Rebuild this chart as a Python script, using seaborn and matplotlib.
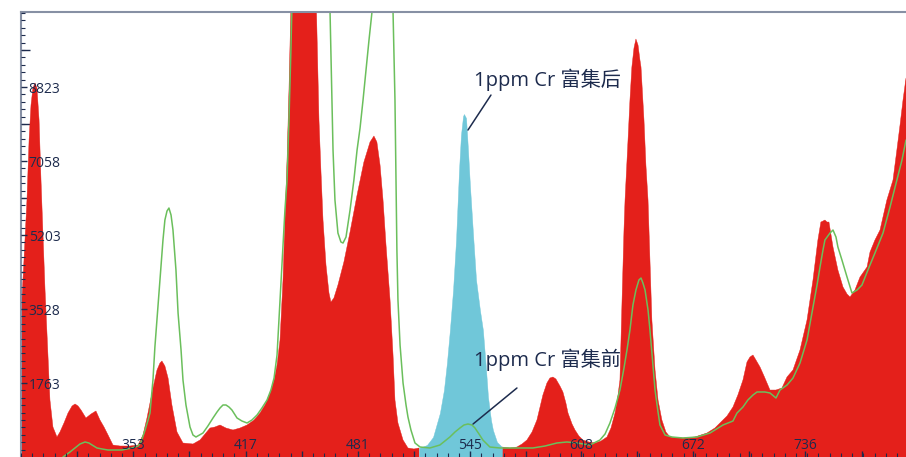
import numpy as np
import matplotlib
matplotlib.use("Agg")
import matplotlib.pyplot as plt
from matplotlib.ticker import FixedLocator, MultipleLocator
import seaborn as sns

# 富集后谱图 (channel, counts)
after_x = [289.0, 290.7, 292.4, 293.6, 294.7, 295.8, 297.0, 298.1, 299.3, 300.4,
           301.5, 302.7, 303.8, 305.5, 307.2, 309.5, 311.2, 313.5, 315.8, 318.1,
           319.8, 321.5, 323.2, 326.0, 328.9, 331.7, 334.0, 336.3, 338.6, 341.4,
           345.4, 351.1, 355.7, 358.5, 360.8, 362.5, 364.2, 366.5, 368.2, 369.3,
           371.0, 372.8, 375.0, 377.9, 381.3, 387.0, 391.0, 396.7, 399.5, 402.4,
           405.8, 409.8, 413.8, 417.8, 421.8, 425.2, 428.0, 430.9, 433.2, 434.9,
           436.6, 438.3, 439.4, 440.6, 441.7, 443.4, 448.0, 452.5, 457.1, 458.8,
           459.9, 461.1, 462.8, 464.5, 465.6, 467.3, 469.6, 473.0, 476.5, 480.5,
           484.4, 487.9, 490.1, 491.8, 493.6, 495.3, 497.0, 499.3, 501.0, 502.1,
           503.8, 506.7, 509.5, 512.9, 515.8,
           520.3, 523.8, 527.7, 530.0, 531.7, 533.4, 535.2, 536.9, 538.6, 539.7,
           540.9, 541.4, 542.6, 543.7, 544.8, 546.6, 548.3, 550.5, 552.2, 554.0,
           555.1, 556.8, 557.9, 560.2, 563.1,
           567.6, 571.6, 574.5, 577.3, 580.2, 583.0, 586.4, 588.7, 590.4, 592.1,
           593.8, 596.1, 597.8, 599.5, 600.7, 603.0, 604.7, 606.9, 609.2, 612.6,
           616.1, 619.5, 622.9, 625.2, 627.5, 629.2, 630.3, 631.5, 632.6, 633.2,
           634.9, 636.0, 637.1, 638.3, 639.4, 640.6, 641.7, 642.3, 644.0, 645.1,
           646.3, 647.4, 648.5, 650.3, 652.0, 654.2, 656.5, 658.8, 666.2, 673.0,
           679.9, 684.4, 687.3, 691.3, 694.7, 697.5, 700.4, 702.7, 704.4, 706.1,
           707.8, 710.1, 712.4, 714.1, 715.8, 719.2, 722.6, 725.5, 728.9, 732.9,
           736.9, 740.3, 743.1, 744.8, 746.0, 747.1, 748.3, 749.4, 751.7, 754.5,
           757.4, 759.7, 761.4, 764.2, 767.1, 771.1, 772.8, 775.6, 778.5, 782.4,
           785.9, 788.1, 789.9, 791.6, 793.3]
after_y = [3338, 4696, 6127, 7557, 8392, 8797, 8916, 8797, 8034, 6604,
           5340, 3981, 2956, 1359, 715, 477, 596, 811, 1049, 1216,
           1264, 1216, 1120, 930, 1025, 1097, 882, 715, 524, 286,
           262, 262, 286, 524, 930, 1287, 1645, 2074, 2241, 2289,
           2169, 1883, 1240, 596, 334, 310, 405, 691, 715, 763,
           691, 644, 691, 763, 882, 1049, 1240, 1526, 1836, 2193,
           2789, 4220, 5650, 7080, 8749, 11848, 12802, 12802, 11133, 8034,
           6842, 5650, 4577, 3910, 3695, 3791, 4100, 4649, 5364, 6246,
           7033, 7510, 7653, 7510, 6961, 6127, 5054, 3743, 2432, 1359,
           811, 405, 215, 191, 215,
           286, 477, 1049, 1597, 2241, 3028, 3981, 5173, 6842, 7676,
           8129, 8177, 8082, 7319, 6484, 5292, 4220, 3504, 3028, 2074,
           1430, 882, 644, 358, 238,
           215, 238, 310, 405, 596, 882, 1478, 1764, 1883, 1907,
           1860, 1693, 1550, 1287, 1049, 787, 644, 501, 405, 358,
           334, 381, 477, 691, 1049, 1478, 1836, 3743, 5412, 6127,
           7557, 8511, 9298, 9751, 9965, 9822, 9464, 9298, 8034, 6961,
           6127, 4696, 3266, 2074, 1359, 882, 596, 477, 453, 477,
           572, 691, 811, 977, 1192, 1478, 1836, 2265, 2384, 2432,
           2312, 2146, 1931, 1764, 1597, 1597, 1645, 1907, 2074, 2551,
           3266, 4220, 5173, 5602, 5626, 5650, 5602, 5602, 5006, 4458,
           4053, 3886, 3814, 3981, 4291, 4530, 4887, 5173, 5412, 6127,
           6604, 7319, 7915, 8511, 9035]

# 富集前谱图
before_x = [312.9, 316.9, 319.8, 322.6, 325.5, 327.7, 329.5, 332.3, 335.2, 338.6,
            342.6, 346.5, 352.2, 355.7, 357.4, 359.7, 361.4, 362.5, 364.2, 365.3,
            367.1, 368.2, 369.9, 371.0, 372.2, 373.3, 374.5, 375.6, 377.3, 378.5,
            380.2, 381.3, 383.0, 385.3, 387.0, 388.7, 392.7, 395.5, 398.4, 400.7,
            402.4, 404.1, 405.8, 407.5, 409.2, 412.1, 414.9, 417.8, 420.6, 423.5,
            426.3, 429.2, 431.4, 433.2, 434.9, 436.6, 438.3, 439.4, 440.6, 441.7,
            442.8, 444.0, 448.0, 459.4, 464.5, 465.1, 466.2, 466.8, 467.9, 469.6,
            471.3, 472.5, 474.2, 476.5, 478.7, 480.5, 482.2, 483.9, 485.6, 487.3,
            489.0, 490.1, 496.4, 499.8, 501.0, 502.1, 502.7, 503.2, 503.8, 505.0,
            506.7, 508.4, 509.5, 511.2, 513.5, 516.4, 522.0, 527.7, 533.4, 536.3,
            539.1, 541.4, 543.7, 546.0, 547.7, 550.0, 552.2, 556.2, 561.9, 570.5,
            580.7, 587.6, 594.4, 600.1, 605.8, 613.2, 618.9, 621.8, 624.6, 627.5,
            630.3, 632.6, 634.3, 636.0, 637.7, 639.4, 641.1, 642.3, 643.4, 644.6,
            646.3, 647.4, 649.1, 650.3, 652.0, 653.1, 656.0, 659.9, 666.2, 674.2,
            681.6, 689.0, 694.7, 697.0, 700.4, 703.2, 706.1, 708.4, 712.9, 715.8,
            719.2, 721.5, 725.5, 728.9, 732.9, 736.9, 740.3, 742.6, 744.3, 746.0,
            747.1, 750.0, 751.7, 753.4, 754.5, 756.8, 759.7, 762.5, 765.4, 768.2,
            771.6, 775.6, 780.2, 784.2, 788.1, 791.0, 793.3]
before_y = [0, 119, 215, 310, 358, 334, 286, 215, 191, 167,
            167, 167, 215, 262, 358, 644, 882, 1049, 1836, 2622,
            3624, 4220, 5173, 5650, 5865, 5936, 5769, 5412, 4458, 3433,
            2551, 1836, 1240, 715, 524, 477, 572, 739, 930, 1073,
            1168, 1240, 1240, 1192, 1120, 930, 858, 811, 882, 1001,
            1168, 1359, 1597, 1883, 2432, 3743, 5006, 5888, 6604, 8034,
            9703, 11848, 15663, 15663, 11848, 10609, 8511, 7319, 6127, 5340,
            5126, 5102, 5245, 5888, 6604, 7319, 7843, 8511, 9226, 9941,
            10609, 11848, 15663, 11848, 10609, 8511, 6604, 4935, 3743, 2670,
            1764, 1240, 954, 644, 334, 238, 215, 286, 477, 596,
            691, 763, 787, 763, 691, 548, 405, 238, 215, 215,
            215, 262, 334, 358, 334, 286, 405, 548, 811, 1168,
            1597, 2122, 2551, 3028, 3624, 3981, 4220, 4267, 4148, 3981,
            3504, 3028, 2193, 1597, 1073, 763, 524, 477, 453, 477,
            572, 763, 858, 1049, 1192, 1359, 1478, 1550, 1550, 1526,
            1407, 1597, 1716, 1883, 2241, 2789, 3576, 4100, 4530, 4935,
            5173, 5340, 5412, 5245, 5006, 4696, 4291, 3910, 3981, 4100,
            4458, 4863, 5340, 5960, 6604, 7080, 7557]

# Cr 积分窗口
cr_window = (515.8, 563.1)

x_label_pos = [353, 417, 481, 545, 608, 672, 736]
x_labels = ['353', '417', '481', '545', '608', '672', '736']
x_mid_pos = [321, 385, 449, 513, 577, 640, 704, 768]
y_label_pos = [1764, 3528, 5292, 7056, 8820]
y_labels = ['1763', '3528', '5203', '7058', '8823']
y_mid_pos = [882, 2646, 4410, 6174, 7938, 9702]

after_text = '1ppm Cr 富集后'
after_text_pos = (547.1, 8988)
after_line = [(556.8, 8630), (543.7, 7796)]
before_text = '1ppm Cr 富集前'
before_text_pos = (547.1, 2312)
before_line = [(571.6, 1645), (546.6, 787)]

RED = '#e4201b'
CYAN = '#70c7d9'
GREEN = '#6bbf5c'
NAVY = '#1d2b4d'
SPINE = '#8790a4'

sns.set_style('white')
plt.rcParams['font.family'] = ['Open Sans', 'Noto Sans CJK SC', 'DejaVu Sans']

fig = plt.figure(figsize=(9.06, 4.57), dpi=100)
ax = fig.add_axes([21 / 906, 0, 885 / 906, 445 / 457])
ax.set_axisbelow(False)

xa = np.array(after_x)
ya = np.array(after_y)
lo, hi = cr_window
ax.fill_between(xa, 0, ya, where=(xa <= lo) | (xa >= hi), color=RED, lw=0.3, zorder=1)
ax.fill_between(xa, 0, ya, where=(xa >= lo) & (xa <= hi), color=CYAN, lw=0.3, zorder=1)
sns.lineplot(x=before_x, y=before_y, ax=ax, color=GREEN, lw=1.1, sort=False,
             estimator=None, zorder=2)

ax.set_xlim(289, 793.3)
ax.set_ylim(0, 10610)

# 刻度
ax.set_xticks(x_label_pos + x_mid_pos, x_labels + [''] * len(x_mid_pos))
ax.xaxis.set_minor_locator(FixedLocator(np.arange(289, 794, 6.4)))
ax.set_yticks(y_label_pos, y_labels)
ax.yaxis.set_minor_locator(MultipleLocator(176.4))
ax.tick_params(axis='x', which='major', direction='in', bottom=True, length=4.5, width=1,
               color=NAVY, pad=-13.5, labelsize=10, labelcolor=NAVY)
ax.tick_params(axis='x', which='minor', direction='in', bottom=True, length=3, width=0.8,
               color=NAVY)
ax.tick_params(axis='y', which='major', direction='in', left=True, length=4.5, width=1,
               color=NAVY, pad=-5.5, labelsize=10, labelcolor=NAVY)
ax.tick_params(axis='y', which='minor', direction='in', left=True, length=3, width=0.8,
               color=NAVY)
plt.setp(ax.get_yticklabels(), ha='left')

sec = ax.secondary_yaxis('left')
sec.set_yticks(y_mid_pos)
sec.tick_params(direction='in', left=True, length=6.5, width=1, color=NAVY, labelleft=False)
sec.spines['left'].set_visible(False)

ax.spines['right'].set_visible(False)
ax.spines['bottom'].set_visible(False)
for side in ['left', 'top']:
    ax.spines[side].set_color(SPINE)
    ax.spines[side].set_linewidth(1.5)

ax.set_xlabel('')
ax.set_ylabel('')

# 标注
for line, text, pos in [(after_line, after_text, after_text_pos),
                        (before_line, before_text, before_text_pos)]:
    ax.annotate('', xy=line[1], xytext=line[0],
                arrowprops=dict(arrowstyle='-', color=NAVY, lw=1.1, shrinkA=0, shrinkB=0))
    ax.text(pos[0], pos[1], text, fontsize=14.5, color=NAVY, ha='left', va='center', zorder=5)

fig.savefig('out.png', dpi=100)
